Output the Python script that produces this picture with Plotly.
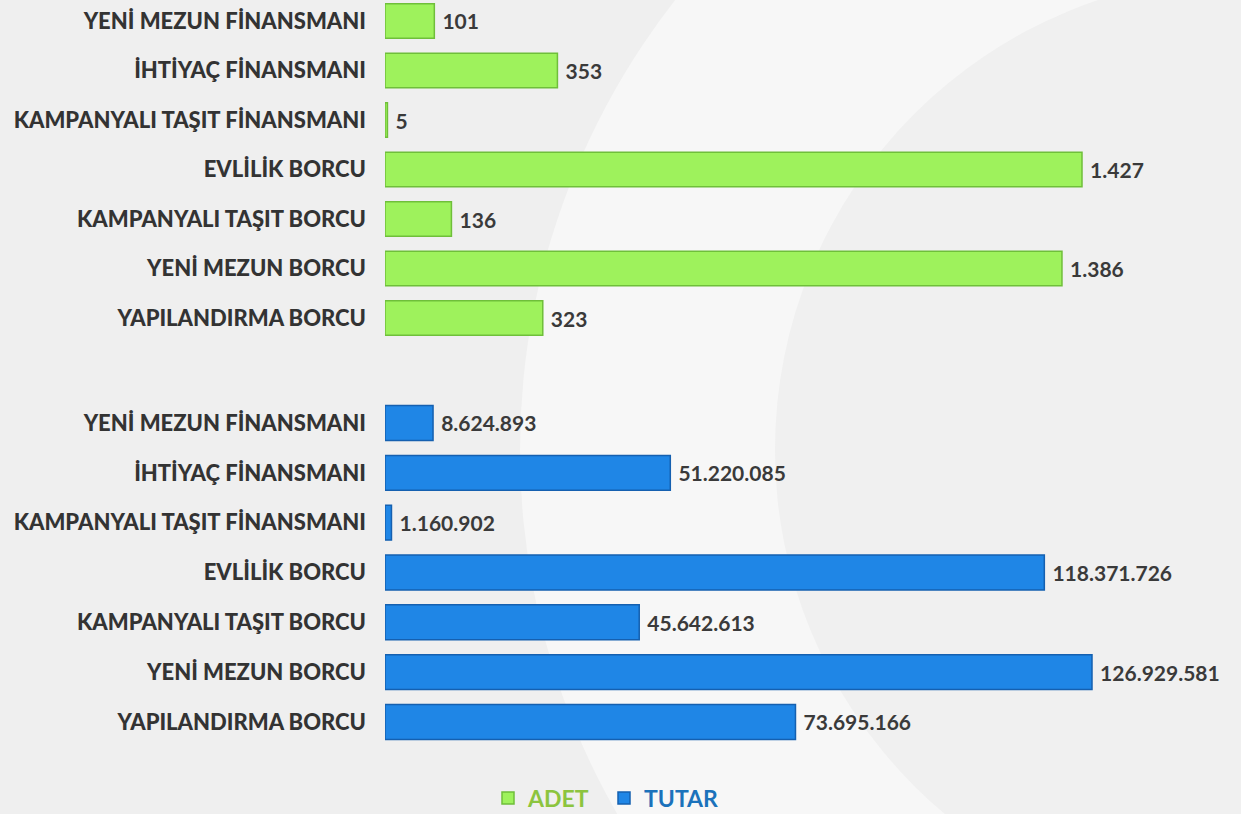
import plotly.graph_objects as go

categories = ["YENİ MEZUN FİNANSMANI", "İHTİYAÇ FİNANSMANI", "KAMPANYALI TAŞIT FİNANSMANI",
              "EVLİLİK BORCU", "KAMPANYALI TAŞIT BORCU", "YENİ MEZUN BORCU", "YAPILANDIRMA BORCU"]
adet = [101, 353, 5, 1427, 136, 1386, 323]
tutar = [8624893, 51220085, 1160902, 118371726, 45642613, 126929581, 73695166]

W, H = 1241, 814
green, green_line = "#9ef25c", "#6fbf3a"
blue, blue_line = "#1f86e6", "#1560b0"
legend_green, legend_blue = "#8cc43f", "#1b72bb"
valfont = dict(family="Lato", size=21, color="#3a3a3a", weight=700)

fig = go.Figure()
fig.add_trace(go.Bar(y=categories, x=adet, orientation="h", name="ADET",
                     marker=dict(color=green, line=dict(color=green_line, width=1.5)),
                     width=0.7, texttemplate=" %{x:,}", textposition="outside",
                     textfont=valfont,
                     cliponaxis=False, xaxis="x", yaxis="y", legend="legend"))
fig.add_trace(go.Bar(y=categories, x=tutar, orientation="h", name="TUTAR",
                     marker=dict(color=blue, line=dict(color=blue_line, width=1.5)),
                     width=0.7, texttemplate=" %{x:,}", textposition="outside",
                     textfont=valfont,
                     cliponaxis=False, xaxis="x2", yaxis="y2", legend="legend2"))

xdom = [385 / W, 1.0]
tickfont = dict(family="Lato", size=22, color="#333333", weight=900)

def px2paper_y(py):
    return (H - py) / H

fig.update_layout(
    width=W, height=H,
    margin=dict(l=0, r=0, t=0, b=0, autoexpand=False),
    paper_bgcolor="#efefef", plot_bgcolor="rgba(0,0,0,0)",
    separators=",.",
    xaxis=dict(domain=xdom, range=[0, 1427 * 856 / 697], visible=False, fixedrange=True),
    yaxis=dict(domain=[px2paper_y(340), 1.0], range=[6.444, -0.424], anchor="x",
               showgrid=False, showline=False, zeroline=False, ticks="",
               ticklabelstandoff=18, tickfont=tickfont),
    xaxis2=dict(domain=xdom, range=[0, 126929581 * 856 / 707], visible=False, anchor="y2"),
    yaxis2=dict(domain=[px2paper_y(760), px2paper_y(390)], range=[6.763, -0.662], anchor="x2",
                showgrid=False, showline=False, zeroline=False, ticks="",
                ticklabelstandoff=18, tickfont=tickfont),
    legend=dict(orientation="h", x=488 / W, y=px2paper_y(798), xanchor="left", yanchor="middle",
                font=dict(family="Lato", size=23, color=legend_green, weight=700),
                bgcolor="rgba(0,0,0,0)", itemwidth=30),
    legend2=dict(orientation="h", x=604 / W, y=px2paper_y(798), xanchor="left", yanchor="middle",
                 font=dict(family="Lato", size=23, color=legend_blue, weight=700),
                 bgcolor="rgba(0,0,0,0)", itemwidth=30),
    showlegend=True,
)

# decorative background arcs
def circle(cx, cy, r, color):
    return dict(type="circle", xref="paper", yref="paper", layer="below",
                x0=(cx - r) / W, x1=(cx + r) / W,
                y0=(H - (cy + r)) / H, y1=(H - (cy - r)) / H,
                fillcolor=color, line=dict(width=0))

fig.add_shape(**circle(1250, 450, 730, "#f7f7f7"))
fig.add_shape(**circle(1250, 450, 475, "#f0f0f0"))

fig.write_html("out.html", config={"displayModeBar": False},
               post_script="document.body.style.margin='0';document.body.style.overflow='hidden';")
